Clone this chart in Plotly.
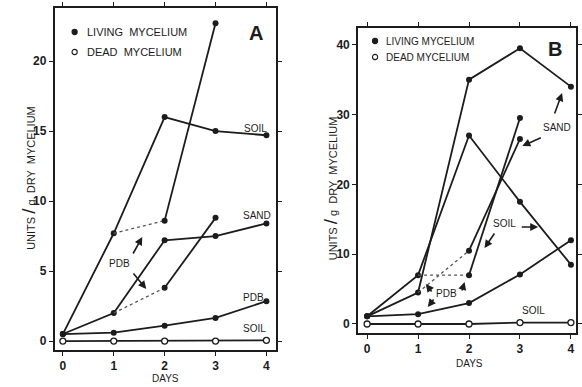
import plotly.graph_objects as go

W, H = 582, 387

days = [0, 1, 2, 3, 4]

# Panel A values (units / g dry mycelium)
a_soil = [0.5, 7.7, 16.0, 15.0, 14.7]
a_sand = [0.5, 2.0, 7.2, 7.5, 8.4]
a_pdb = [0.5, 0.6, 1.1, 1.65, 2.85]
a_dead = [0.0, 0.0, 0.0, 0.0, 0.05]
a_transfer_days = [1, 2, 3]
a_soil_to_pdb = [7.7, 8.6, 22.7]
a_sand_to_pdb = [2.0, 3.8, 8.8]

# Panel B values
b_sand = [1.1, 4.5, 35.0, 39.5, 34.0]
b_soil = [1.1, 7.0, 27.0, 17.5, 8.5]
b_pdb = [1.1, 1.4, 3.0, 7.1, 12.0]
b_dead = [0.0, 0.0, 0.0, 0.2, 0.2]
b_transfer_days = [1, 2, 3]
b_soil_to_pdb = [7.0, 7.0, 29.5]
b_sand_to_pdb = [4.5, 10.5, 26.5]

a_yticks = [0, 5, 10, 15, 20]
b_yticks = [0, 10, 20, 30, 40]

INK = "#1c1c1c"
FONT = "Liberation Sans"

fig = go.Figure()


def solid(x, y, xa, ya, markers=True):
    fig.add_trace(go.Scatter(
        x=x, y=y, xaxis=xa, yaxis=ya, mode="lines+markers" if markers else "lines",
        line=dict(color=INK, width=1.8),
        marker=dict(color=INK, size=6),
        showlegend=False, hoverinfo="skip"))


def dotted(x, y, xa, ya):
    fig.add_trace(go.Scatter(
        x=x, y=y, xaxis=xa, yaxis=ya, mode="lines",
        line=dict(color="#555555", width=1.3, dash="dot"),
        showlegend=False, hoverinfo="skip"))


def open_series(x, y, xa, ya):
    fig.add_trace(go.Scatter(
        x=x, y=y, xaxis=xa, yaxis=ya, mode="lines+markers",
        line=dict(color=INK, width=1.8),
        marker=dict(color="white", size=6, line=dict(color=INK, width=1.3)),
        showlegend=False, hoverinfo="skip"))


# Panel A
open_series(days, a_dead, "x", "y")
solid(days, a_pdb, "x", "y")
solid(days, a_sand, "x", "y")
solid(days, a_soil, "x", "y")
dotted(a_transfer_days[:2], a_soil_to_pdb[:2], "x", "y")
solid(a_transfer_days[1:], a_soil_to_pdb[1:], "x", "y")
dotted(a_transfer_days[:2], a_sand_to_pdb[:2], "x", "y")
solid(a_transfer_days[1:], a_sand_to_pdb[1:], "x", "y")

# Panel B
open_series(days, b_dead, "x2", "y2")
solid(days, b_pdb, "x2", "y2")
solid(days, b_soil, "x2", "y2")
solid(days, b_sand, "x2", "y2")
dotted(b_transfer_days[:2], b_soil_to_pdb[:2], "x2", "y2")
solid(b_transfer_days[1:], b_soil_to_pdb[1:], "x2", "y2")
dotted(b_transfer_days[:2], b_sand_to_pdb[:2], "x2", "y2")
solid(b_transfer_days[1:], b_sand_to_pdb[1:], "x2", "y2")


def px(x):
    return x / W


def py(y):
    return 1 - y / H


axis_common = dict(
    showline=True, mirror="allticks", linecolor=INK, linewidth=2,
    ticks="outside", ticklen=4, tickwidth=1.2, tickcolor=INK,
    showgrid=False, zeroline=False,
    tickfont=dict(family=FONT, size=12, color=INK, weight="bold"),
)

fig.update_layout(
    width=W, height=H, autosize=False,
    margin=dict(l=0, r=0, t=0, b=0),
    paper_bgcolor="white", plot_bgcolor="white",
    xaxis=dict(domain=[px(55), px(277)], range=[-0.16, 4.18], tickvals=days,
               anchor="y", **axis_common),
    yaxis=dict(domain=[py(350), py(8)], range=[-0.64, 23.79], tickvals=a_yticks,
               anchor="x", **axis_common),
    xaxis2=dict(domain=[px(360), px(579)], range=[-0.176, 4.1], tickvals=days,
                anchor="y2", **axis_common),
    yaxis2=dict(domain=[py(333), py(28)], range=[-1.29, 42.4], tickvals=b_yticks,
                anchor="x2", **axis_common),
)

ann = []
shapes = []


def text(x, y, t, size=10, anchor="center", bold=False, angle=0):
    ann.append(dict(x=px(x), y=py(y), xref="paper", yref="paper", text=t,
                    showarrow=False, xanchor=anchor, yanchor="middle",
                    textangle=angle,
                    font=dict(family=FONT, size=size, color=INK,
                              weight="bold" if bold else "normal")))


def arrow(tx, ty, dx, dy):
    ann.append(dict(x=px(tx), y=py(ty), xref="paper", yref="paper", text="",
                    showarrow=True, ax=dx, ay=dy, arrowhead=2, arrowsize=1,
                    arrowwidth=1.6, arrowcolor=INK))


def dot(cx, cy, filled):
    r = 2.6
    shapes.append(dict(type="circle", xref="paper", yref="paper",
                       x0=px(cx - r), x1=px(cx + r), y0=py(cy + r), y1=py(cy - r),
                       fillcolor=INK if filled else "white",
                       line=dict(color=INK, width=1.1)))


ytitle = "UNITS <span style='font-size:19px'>/</span> g  DRY  MYCELIUM"

# Panel A texts
text(28, 178, ytitle, size=11, angle=-90)
text(166, 378, "DAYS", size=10)
dot(75, 32, True)
text(85, 32, "LIVING  MYCELIUM", size=11, anchor="left")
dot(75, 52, False)
text(85, 52, "DEAD  MYCELIUM", size=11, anchor="left")
text(257, 33, "A", size=20, bold=True)
text(257, 128, "SOIL", size=10)
text(258, 215, "SAND", size=10)
text(255, 297, "PDB", size=10)
text(256, 328, "SOIL", size=10)
text(120, 263, "PDB", size=10)
arrow(143, 237, -10, 18)
arrow(147, 289, -14, -17)

# Panel B texts
text(332, 188, ytitle, size=11, angle=-90)
text(472, 363, "DAYS", size=10)
dot(377, 41, True)
text(386, 41, "LIVING MYCELIUM", size=10, anchor="left")
dot(377, 57, False)
text(386, 57, "DEAD MYCELIUM", size=10, anchor="left")
text(558, 49, "B", size=20, bold=True)
text(560, 127, "SAND", size=10)
arrow(565, 93, -8, 22)
arrow(525, 146, 20, -9)
text(507, 224, "SOIL", size=10)
arrow(541, 227, -18, 0)
arrow(487, 248, 11, -16)
text(449, 293, "PDB", size=10)
arrow(428, 284, 7, 9)
arrow(467, 282, -3, 10)
arrow(430, 307, 7, -9)
text(536, 310, "SOIL", size=10)

fig.update_layout(annotations=ann, shapes=shapes)

fig.write_html(
    "out.html",
    config={"displayModeBar": False},
    post_script="document.body.style.margin='0';document.body.style.padding='0';"
                "document.documentElement.style.overflow='hidden';",
)
